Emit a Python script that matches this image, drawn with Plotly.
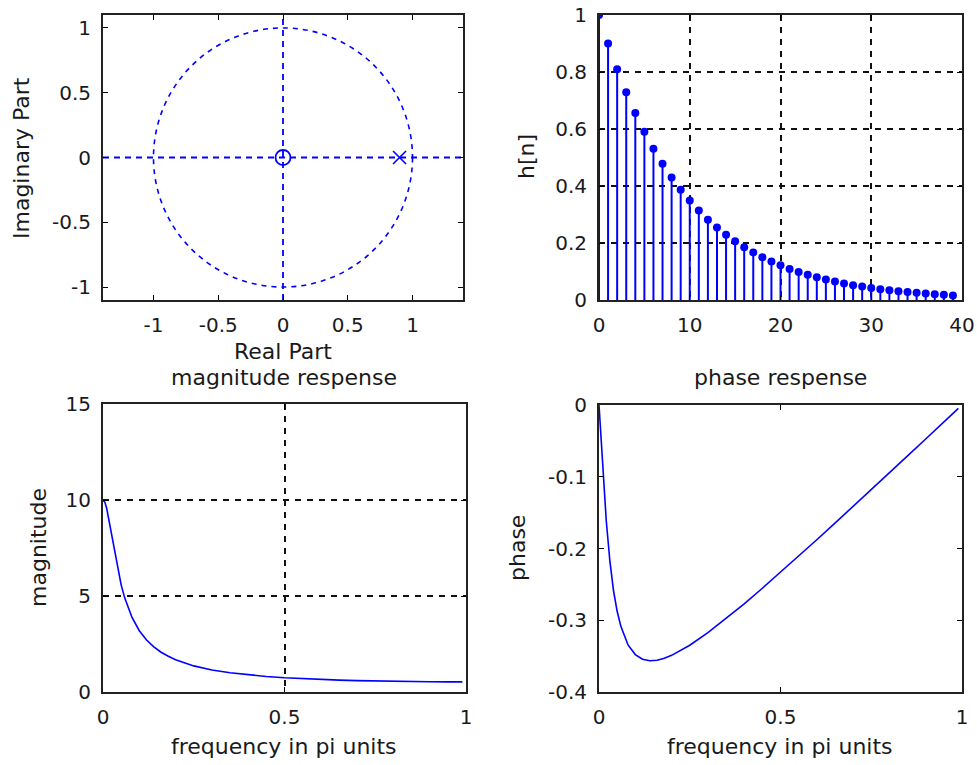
import plotly.graph_objects as go

# ---------------- data ----------------
# pole-zero plot
zero_re = [0.0]
zero_im = [0.0]
pole_re = [0.9]
pole_im = [0.0]

# impulse response h[n]
n_idx = list(range(40))
h_vals = [1.000, 0.900, 0.810, 0.729, 0.656, 0.590, 0.531, 0.478, 0.430, 0.387,
          0.349, 0.314, 0.282, 0.254, 0.229, 0.206, 0.185, 0.167, 0.150, 0.135,
          0.122, 0.109, 0.098, 0.089, 0.080, 0.072, 0.065, 0.058, 0.052, 0.047,
          0.042, 0.038, 0.034, 0.031, 0.028, 0.025, 0.023, 0.020, 0.018, 0.016]

# frequency response
freq = [0, 0.005, 0.01, 0.02, 0.03, 0.04, 0.05, 0.06, 0.08, 0.10, 0.12, 0.14,
        0.16, 0.18, 0.20, 0.25, 0.30, 0.35, 0.40, 0.45, 0.50, 0.55, 0.60, 0.65,
        0.70, 0.75, 0.80, 0.85, 0.90, 0.95, 0.99]
magnitude = [10.0, 9.89, 9.58, 8.59, 7.46, 6.43, 5.58, 4.89, 3.88, 3.19, 2.71, 2.35,
             2.07, 1.86, 1.68, 1.36, 1.15, 1.00, 0.893, 0.809, 0.743, 0.691, 0.650, 0.617,
             0.590, 0.570, 0.553, 0.541, 0.533, 0.528, 0.526]
phase = [0.0, -0.0447, -0.0873, -0.1613, -0.2177, -0.2589, -0.2875, -0.3082, -0.3344,
         -0.3478, -0.3544, -0.3564, -0.3558, -0.3529, -0.3489, -0.3348, -0.3173, -0.2977,
         -0.2771, -0.2554, -0.2333, -0.2107, -0.1878, -0.1647, -0.1416, -0.1181, -0.0946,
         -0.0710, -0.0474, -0.0237, -0.0047]

# tick labels
pz_ticks = [-1, -0.5, 0, 0.5, 1]
pz_ticktext = ["-1", "-0.5", "0", "0.5", "1"]
h_xticks = [0, 10, 20, 30, 40]
h_yticks = [0, 0.2, 0.4, 0.6, 0.8, 1]
h_yticktext = ["0", "0.2", "0.4", "0.6", "0.8", "1"]
f_ticks = [0, 0.5, 1]
f_ticktext = ["0", "0.5", "1"]
mag_ticks = [0, 5, 10, 15]
ph_ticks = [-0.4, -0.3, -0.2, -0.1, 0]
ph_ticktext = ["-0.4", "-0.3", "-0.2", "-0.1", "0"]

# ---------------- figure ----------------
W, H = 977, 765
BLUE = "#0000ff"
TXT = "#1a1a1a"
FONT = "DejaVu Sans"
FS = 20
FS_LABEL = 22

def px_x(p):
    return p / W

def px_y(p):
    return 1 - p / H

fig = go.Figure()

# stems as line segments
stem_x, stem_y = [], []
for n, v in zip(n_idx, h_vals):
    stem_x += [n, n, None]
    stem_y += [0, v, None]

fig.add_trace(go.Scatter(x=zero_re, y=zero_im, mode="markers", xaxis="x", yaxis="y",
                         marker=dict(symbol="circle-open", size=15, color=BLUE,
                                     line=dict(width=1.8, color=BLUE))))
fig.add_trace(go.Scatter(x=pole_re, y=pole_im, mode="markers", xaxis="x", yaxis="y",
                         marker=dict(symbol="x-thin", size=13, color=BLUE,
                                     line=dict(width=1.6, color=BLUE))))
fig.add_trace(go.Scatter(x=stem_x, y=stem_y, mode="lines", xaxis="x2", yaxis="y2",
                         line=dict(color=BLUE, width=2)))
fig.add_trace(go.Scatter(x=n_idx, y=h_vals, mode="markers", xaxis="x2", yaxis="y2",
                         marker=dict(symbol="circle", size=8, color=BLUE)))
fig.add_trace(go.Scatter(x=freq, y=magnitude, mode="lines", xaxis="x3", yaxis="y3",
                         line=dict(color=BLUE, width=1.6)))
fig.add_trace(go.Scatter(x=freq, y=phase, mode="lines", xaxis="x4", yaxis="y4",
                         line=dict(color=BLUE, width=1.6)))

def axis(domain, rng, tickvals, ticktext, anchor, grid=False):
    return dict(domain=domain, range=rng, tickvals=tickvals, ticktext=ticktext,
                anchor=anchor, showline=True, linecolor="#222222", linewidth=2,
                mirror="allticks", ticks="inside", ticklen=5, tickcolor="black",
                tickwidth=1, showgrid=grid, gridcolor="#111111", griddash="6px,6px",
                gridwidth=1.5, zeroline=False, fixedrange=True, automargin=False,
                ticklabelstandoff=6,
                tickfont=dict(family=FONT, size=FS, color=TXT))

tl_x = [px_x(103), px_x(463)]
tr_x = [px_x(599), px_x(962)]
bl_x = [px_x(103), px_x(466)]
top_y = [px_y(300), px_y(15)]
bl_y = [px_y(692), px_y(404)]
br_y = [px_y(692), px_y(405)]

xa1 = axis(tl_x, [-1.39, 1.39], pz_ticks, pz_ticktext, "y")
ya1 = axis(top_y, [-1.1, 1.1], pz_ticks, pz_ticktext, "x")
xa2 = axis(tr_x, [0, 40], h_xticks, [str(v) for v in h_xticks], "y2", grid=True)
ya2 = axis(top_y, [0, 1], h_yticks, h_yticktext, "x2", grid=True)
xa3 = axis(bl_x, [0, 1], f_ticks, f_ticktext, "y3", grid=True)
ya3 = axis(bl_y, [0, 15], mag_ticks, [str(v) for v in mag_ticks], "x3", grid=True)
xa4 = axis(tr_x, [0, 1], f_ticks, f_ticktext, "y4")
ya4 = axis(br_y, [-0.4, 0], ph_ticks, ph_ticktext, "x4")

# pole-zero decorations: unit circle and axes (dashed blue)
shapes = [
    dict(type="circle", xref="x", yref="y", x0=-1, y0=-1, x1=1, y1=1,
         line=dict(color=BLUE, width=1.6, dash="5px,5px"), layer="below"),
    dict(type="line", xref="x domain", yref="y", x0=0, x1=1, y0=0, y1=0,
         line=dict(color=BLUE, width=1.8, dash="6px,5px"), layer="below"),
    dict(type="line", xref="x", yref="y domain", x0=0, x1=0, y0=0, y1=1,
         line=dict(color=BLUE, width=1.8, dash="6px,5px"), layer="below"),
]

def ann(text, x, y, angle=0):
    return dict(text=text, x=px_x(x), y=px_y(y), xref="paper", yref="paper",
                showarrow=False, textangle=angle, xanchor="center", yanchor="middle",
                font=dict(family=FONT, size=FS_LABEL, color=TXT))

annotations = [
    ann("Imaginary Part", 22, 158, -90),
    ann("Real Part", 283, 352),
    ann("h[n]", 527, 157, -90),
    ann("magnitude respense", 284, 377),
    ann("phase respense", 780, 377),
    ann("magnitude", 38, 548, -90),
    ann("phase", 517, 548, -90),
    ann("frequency in pi units", 284, 746),
    ann("frequency in pi units", 780, 746),
]

fig.update_layout(
    width=W, height=H, margin=dict(l=0, r=0, t=0, b=0, autoexpand=False),
    paper_bgcolor="white", plot_bgcolor="white", showlegend=False,
    xaxis=xa1, yaxis=ya1, xaxis2=xa2, yaxis2=ya2,
    xaxis3=xa3, yaxis3=ya3, xaxis4=xa4, yaxis4=ya4,
    shapes=shapes, annotations=annotations,
    font=dict(family=FONT, size=FS, color=TXT),
)

fig.write_html("out.html")
